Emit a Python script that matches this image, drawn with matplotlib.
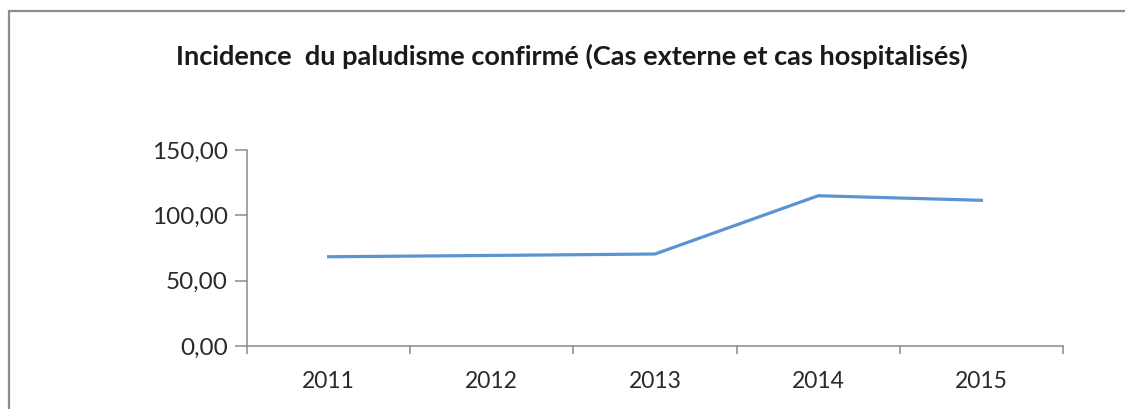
import numpy as np
import matplotlib
matplotlib.use('Agg')
import matplotlib.pyplot as plt
from matplotlib.patches import Rectangle

# data
annees = ['2011', '2012', '2013', '2014', '2015']
incidence = [68.3, 69.3, 70.4, 115.0, 111.5]
yticks = [0, 50, 100, 150]
ytick_labels = ['0,00', '50,00', '100,00', '150,00']
titre = 'Incidence  du paludisme confirmé (Cas externe et cas hospitalisés)'

plt.rcParams['font.family'] = ['Lato', 'DejaVu Sans']

W, H = 1125, 409
fig = plt.figure(figsize=(W / 100, H / 100), dpi=100)
fig.patch.set_facecolor('white')

# frame of the chart area (runs off the right and bottom edges)
fig.patches.append(Rectangle((8.5 / W, -0.2), 1.5, 1.2 - 10.5 / H,
                             transform=fig.transFigure, fill=False,
                             edgecolor='#8c8c8c', lw=1.6))

ax = fig.add_axes([247 / W, 1 - 346 / H, (1063 - 247) / W, (346 - 150) / H])
x = np.arange(len(annees))
ax.plot(x, incidence, color='#5B93D3', lw=2.3, solid_joinstyle='miter')

ax.set_xlim(-0.5, len(annees) - 0.5)
ax.set_ylim(0, 150)

axis_col = '#8a8a8a'
txt_col = '#2a2a2a'
for s in ['top', 'right']:
    ax.spines[s].set_visible(False)
for s in ['left', 'bottom']:
    ax.spines[s].set_color(axis_col)
    ax.spines[s].set_linewidth(1.1)

ax.set_yticks(yticks)
ax.set_yticklabels(ytick_labels)
ax.tick_params(axis='y', length=9, width=1.1, color=axis_col, pad=5,
               labelsize=17.5, labelcolor=txt_col)

# category boundaries as ticks, labels at the centres
ax.set_xticks(np.arange(-0.5, len(annees), 1.0))
ax.set_xticklabels([])
ax.set_xticks(x, minor=True)
ax.set_xticklabels(annees, minor=True)
ax.tick_params(axis='x', which='major', length=6, width=1.1, color=axis_col)
ax.tick_params(axis='x', which='minor', length=0, pad=18,
               labelsize=16.5, labelcolor=txt_col)

fig.text(572 / W, 1 - 65 / H, titre, ha='center', va='baseline',
         fontsize=19.5, fontweight='bold', color='#1a1a1a')

fig.savefig('out.png', dpi=100)
